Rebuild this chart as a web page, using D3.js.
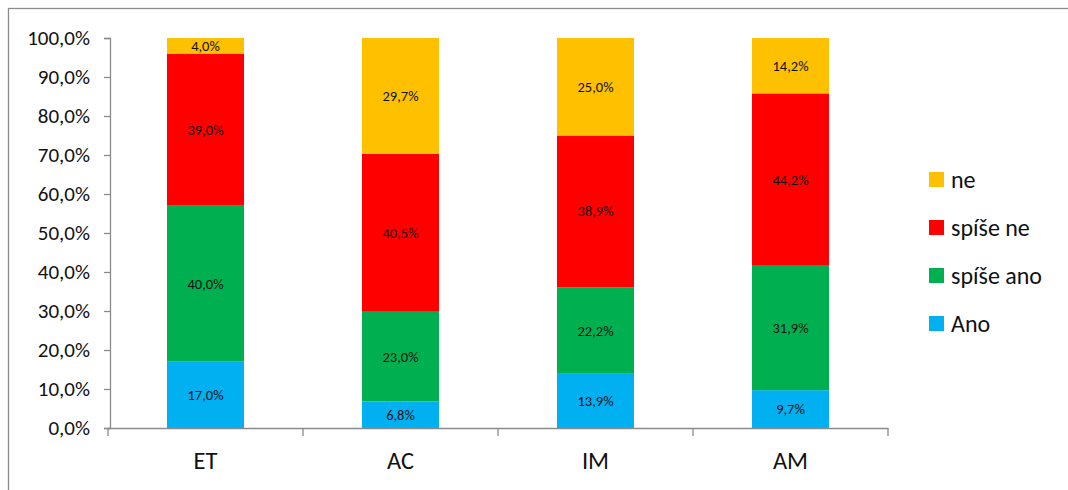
<!DOCTYPE html>
<html>
<head>
<meta charset="utf-8">
<script src="https://cdn.jsdelivr.net/npm/d3@7"></script>
<style>
  html, body { margin: 0; padding: 0; background: #fff; }
  svg { display: block; }
  text { font-family: Carlito, Lato, "Open Sans", "Liberation Sans", sans-serif; }
</style>
</head>
<body>
<svg id="chart" width="1068" height="490"></svg>
<script>
// Answers per group, percent of respondents
const categories = ["ET", "AC", "IM", "AM"];
const seriesNames = ["Ano", "spíše ano", "spíše ne", "ne"];
const ano      = [17.0, 6.8, 13.9, 9.7];
const spiseAno = [40.0, 23.0, 22.2, 31.9];
const spiseNe  = [39.0, 40.5, 38.9, 44.2];
const ne       = [4.0, 29.7, 25.0, 14.2];
const yTicks = [0, 10, 20, 30, 40, 50, 60, 70, 80, 90, 100];
const colors = ["#00B0F0", "#00B050", "#FF0000", "#FFC000"];

const rows = categories.map((c, i) => ({
  cat: c,
  "Ano": ano[i], "spíše ano": spiseAno[i], "spíše ne": spiseNe[i], "ne": ne[i]
}));

const svg = d3.select("#chart");
const fmt = v => d3.format(".1f")(v).replace(".", ",") + "%";
const font = "Carlito, Lato, 'Open Sans', sans-serif";

// outer frame
svg.append("rect").attr("x", 8.5).attr("y", 8.5).attr("width", 1100).attr("height", 600)
  .attr("fill", "none").attr("stroke", "#8c8c8c").attr("stroke-width", 1.3);

const x = d3.scaleBand().domain(categories).range([108, 888]).paddingInner(0).paddingOuter(0);
const y = d3.scaleLinear().domain([0, 100]).range([428, 38]);
const barW = 77;

const stack = d3.stack().keys(seriesNames)(rows);

const g = svg.append("g");
stack.forEach((layer, si) => {
  g.selectAll(null).data(layer).enter().append("rect")
    .attr("x", d => x(d.data.cat) + x.bandwidth() / 2 - barW / 2)
    .attr("width", barW)
    .attr("y", d => y(d[1]))
    .attr("height", d => y(d[0]) - y(d[1]))
    .attr("fill", colors[si]);
  g.selectAll(null).data(layer).enter().append("text")
    .attr("x", d => x(d.data.cat) + x.bandwidth() / 2)
    .attr("y", d => (y(d[0]) + y(d[1])) / 2)
    .attr("dy", "0.35em")
    .attr("text-anchor", "middle")
    .attr("font-size", 14.5)
    .attr("fill", "#111")
    .text(d => fmt(d[1] - d[0]));
});

const axisColor = "#8a8a8a";

// y axis
const yAxis = svg.append("g").attr("transform", "translate(110,0)")
  .call(d3.axisLeft(y).tickValues(yTicks).tickSize(6).tickPadding(14).tickFormat(fmt));
yAxis.select(".domain").attr("stroke", axisColor).attr("stroke-width", 1.3);
yAxis.selectAll(".tick line").attr("stroke", axisColor).attr("stroke-width", 1.3);
yAxis.selectAll(".tick text").attr("font-size", 21).attr("fill", "#111")
  .attr("font-family", font);

// x axis
const xAxis = svg.append("g").attr("transform", "translate(0,428)")
  .call(d3.axisBottom(x).tickSize(0).tickPadding(24));
xAxis.select(".domain").attr("stroke", axisColor).attr("stroke-width", 1.3);
xAxis.selectAll(".tick text").attr("font-size", 24.5).attr("fill", "#111")
  .attr("font-family", font);
// boundary ticks between categories
const bounds = categories.map(c => x(c)).concat([x(categories[categories.length - 1]) + x.bandwidth()]);
xAxis.selectAll(".bound").data(bounds).enter().append("line")
  .attr("x1", d => d).attr("x2", d => d).attr("y1", 0).attr("y2", 8)
  .attr("stroke", axisColor).attr("stroke-width", 1.3);

// legend
const legendItems = seriesNames.map((n, i) => ({ name: n, color: colors[i] })).reverse();
const lg = svg.append("g").attr("transform", "translate(929,172)");
const li = lg.selectAll("g").data(legendItems).enter().append("g")
  .attr("transform", (d, i) => `translate(0,${i * 48})`);
li.append("rect").attr("width", 15).attr("height", 15).attr("fill", d => d.color);
li.append("text").attr("x", 22).attr("y", 7.5).attr("dy", "0.35em")
  .attr("font-size", 24).attr("fill", "#111").text(d => d.name);
</script>
</body>
</html>
